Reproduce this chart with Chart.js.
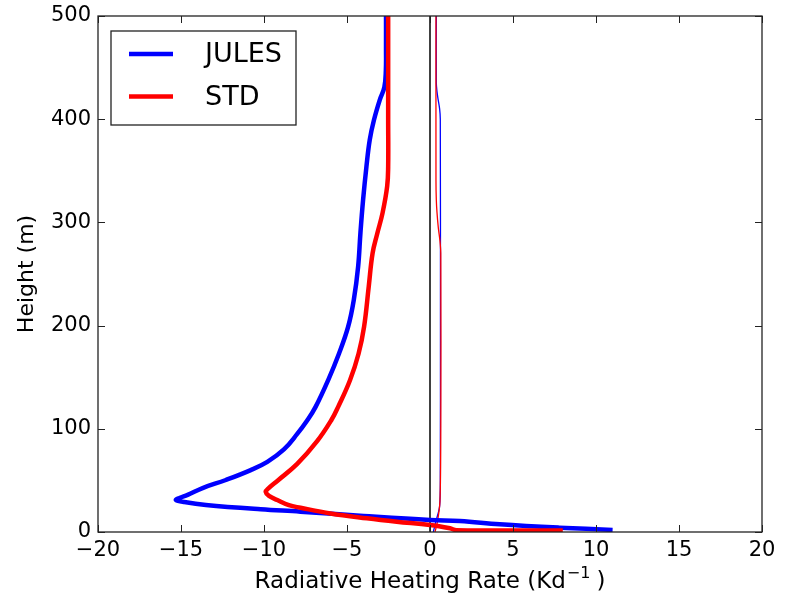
<!DOCTYPE html>
<html>
<head>
<meta charset="utf-8">
<script src="https://cdn.jsdelivr.net/npm/chart.js@4.4.1/dist/chart.umd.min.js"></script>
<style>
  html, body { margin: 0; padding: 0; background: #ffffff; }
  canvas { display: block; }
</style>
</head>
<body>
<canvas id="c" width="790" height="598"></canvas>
<script>
// ---- Data (x = heating rate K/day, y = height m) ----
const xTickValues = [-20, -15, -10, -5, 0, 5, 10, 15, 20];
const xTickLabels = ['\u221220', '\u221215', '\u221210', '\u22125', '0', '5', '10', '15', '20'];
const yTickValues = [0, 100, 200, 300, 400, 500];
const yTickLabels = ['0', '100', '200', '300', '400', '500'];

const xAxisTitle = 'Radiative Heating Rate (Kd';
const xAxisTitleSup = '\u22121';
const xAxisTitleEnd = ')';
const yAxisTitle = 'Height (m)';

const julesHeight = [2, 4.2, 7.5, 10.7, 11.6, 15.5, 19.7, 22, 26.2, 29, 31, 33, 36, 42.6, 50.4, 60, 68, 80, 95, 108, 121, 147, 173, 199, 225, 257, 290, 322, 354, 380, 399, 419, 431, 447, 470, 500];
const julesRate   = [11.0, 7.8, 4.2, 1.8, 0.0, -4.0, -7.8, -10.2, -13.5, -14.8, -15.3, -15.1, -14.6, -13.7, -12.3, -10.8, -9.8, -8.8, -8.0, -7.4, -6.9, -6.14, -5.48, -4.93, -4.59, -4.33, -4.19, -4.03, -3.83, -3.63, -3.38, -3.02, -2.75, -2.66, -2.65, -2.65];

const stdHeight = [1.5, 1.8, 3.6, 6.8, 10, 13.3, 18, 23.5, 26, 31, 35, 39, 42, 49.5, 66, 88, 108.5, 121, 147, 173, 199, 238, 270, 289, 309, 335, 354, 400, 500];
const stdRate   = [8.0, 1.6, 1.2, 0.0, -2.0, -3.8, -6.0, -7.8, -8.5, -9.2, -9.7, -9.9, -9.75, -9.2, -8.0, -6.8, -5.94, -5.54, -4.82, -4.3, -3.97, -3.69, -3.46, -3.18, -2.86, -2.58, -2.52, -2.52, -2.52];

const julesThinHeight = [0, 10, 25, 60, 200, 400, 410, 420, 427, 435, 500];
const julesThinRate   = [0.2, 0.35, 0.58, 0.62, 0.63, 0.62, 0.58, 0.48, 0.42, 0.38, 0.38];

const stdThinHeight = [0, 10, 30, 100, 270, 282, 295, 310, 322, 340, 500];
const stdThinRate   = [0.3, 0.45, 0.6, 0.65, 0.65, 0.6, 0.5, 0.42, 0.38, 0.36, 0.36];

const zeroLineHeight = [0, 500];
const zeroLineRate   = [0, 0];

const seriesNames = ['JULES', 'STD'];

// ---- build points ----
const pts = (xs, ys) => xs.map((x, i) => ({ x: x, y: ys[i] }));
const FONT = '"DejaVu Sans", "Liberation Sans", sans-serif';

const datasets = [
  { label: seriesNames[0], data: pts(julesRate, julesHeight), borderColor: '#0000ff', borderWidth: 4.5, order: 1, tension: 0.4, inLegend: true },
  { label: seriesNames[1], data: pts(stdRate, stdHeight), borderColor: '#ff0000', borderWidth: 4.5, order: 0, tension: 0.4, inLegend: true },
  { label: 'JULES thin', data: pts(julesThinRate, julesThinHeight), borderColor: '#0000ff', borderWidth: 1.3, order: 3, tension: 0.3, inLegend: false },
  { label: 'STD thin', data: pts(stdThinRate, stdThinHeight), borderColor: '#ff0000', borderWidth: 1.3, order: 2, tension: 0.3, inLegend: false },
  { label: 'zero', data: pts(zeroLineRate, zeroLineHeight), borderColor: '#000000', borderWidth: 1.5, order: 4, tension: 0, inLegend: false }
].map(d => Object.assign({ showLine: true, pointRadius: 0, pointHoverRadius: 0, fill: false, borderCapStyle: 'butt', borderJoinStyle: 'round' }, d));

// frame, inward ticks on four sides, x title with superscript, legend box
const framePlugin = {
  id: 'frame',
  afterDraw(chart) {
    const ctx = chart.ctx;
    const a = chart.chartArea;
    const xs = chart.scales.x, ys = chart.scales.y;
    ctx.save();
    ctx.strokeStyle = '#222222';
    ctx.lineWidth = 1.3;
    ctx.strokeRect(a.left, a.top, a.right - a.left, a.bottom - a.top);
    ctx.lineWidth = 1;
    const tl = 7;
    ctx.beginPath();
    xTickValues.forEach(v => {
      const px = Math.round(xs.getPixelForValue(v)) + 0.5;
      ctx.moveTo(px, a.bottom); ctx.lineTo(px, a.bottom - tl);
      ctx.moveTo(px, a.top); ctx.lineTo(px, a.top + tl);
    });
    yTickValues.forEach(v => {
      const py = Math.round(ys.getPixelForValue(v)) + 0.5;
      ctx.moveTo(a.left, py); ctx.lineTo(a.left + tl, py);
      ctx.moveTo(a.right, py); ctx.lineTo(a.right - tl, py);
    });
    ctx.stroke();

    // x axis title with superscript
    const mainFont = '23px ' + FONT, supFont = '16px ' + FONT;
    ctx.fillStyle = '#000000';
    ctx.textBaseline = 'alphabetic';
    ctx.textAlign = 'left';
    ctx.font = mainFont;
    const w1 = ctx.measureText(xAxisTitle).width;
    const w3 = ctx.measureText(xAxisTitleEnd).width;
    ctx.font = supFont;
    const w2 = ctx.measureText(xAxisTitleSup).width;
    const gap = 6;
    const total = w1 + 1 + w2 + gap + w3;
    const cx = (a.left + a.right) / 2;
    const tx = cx - total / 2;
    const base = 588;
    ctx.font = mainFont;
    ctx.fillText(xAxisTitle, tx, base);
    ctx.font = supFont;
    ctx.fillText(xAxisTitleSup, tx + w1 + 1, base - 10);
    ctx.font = mainFont;
    ctx.fillText(xAxisTitleEnd, tx + w1 + 1 + w2 + gap, base);

    // legend
    const items = chart.data.datasets.filter(d => d.inLegend);
    const bx = a.left + 13, by = a.top + 15, bw = 185, bh = 94;
    ctx.fillStyle = '#ffffff';
    ctx.fillRect(bx, by, bw, bh);
    ctx.strokeStyle = '#222222';
    ctx.lineWidth = 1.3;
    ctx.strokeRect(bx, by, bw, bh);
    ctx.font = '27px ' + FONT;
    ctx.textBaseline = 'middle';
    ctx.textAlign = 'left';
    items.forEach((d, i) => {
      const ly = by + 23 + i * 42.5;
      ctx.strokeStyle = d.borderColor;
      ctx.lineWidth = 4.5;
      ctx.beginPath();
      ctx.moveTo(bx + 18, ly);
      ctx.lineTo(bx + 62, ly);
      ctx.stroke();
      ctx.fillStyle = '#000000';
      ctx.fillText(d.label, bx + 94, ly + 1);
    });
    ctx.restore();
  }
};

new Chart(document.getElementById('c'), {
  type: 'scatter',
  data: { datasets: datasets },
  options: {
    responsive: false,
    animation: false,
    events: [],
    layout: { padding: { top: 16, right: 28, left: 0, bottom: 0 } },
    plugins: { legend: { display: false }, tooltip: { enabled: false } },
    scales: {
      x: {
        type: 'linear', position: 'bottom', min: -20, max: 20,
        grid: { display: false, drawTicks: false },
        border: { display: false },
        afterBuildTicks: s => { s.ticks = xTickValues.map(v => ({ value: v })); },
        afterFit: s => { s.height = 66; },
        ticks: {
          autoSkip: false, maxRotation: 0, padding: 6, color: '#000000',
          font: { family: FONT, size: 21 },
          callback: v => xTickLabels[xTickValues.indexOf(v)]
        },
        title: { display: false }
      },
      y: {
        type: 'linear', position: 'left', min: 0, max: 500,
        grid: { display: false, drawTicks: false },
        border: { display: false },
        afterBuildTicks: s => { s.ticks = yTickValues.map(v => ({ value: v })); },
        afterFit: s => { s.width = 98; },
        ticks: {
          autoSkip: false, padding: 7, color: '#000000',
          font: { family: FONT, size: 21, lineHeight: 0.7 },
          callback: v => yTickLabels[yTickValues.indexOf(v)]
        },
        title: {
          display: true, text: yAxisTitle, color: '#000000',
          font: { family: FONT, size: 22 }, padding: { top: 14, bottom: 0 }
        }
      }
    }
  },
  plugins: [framePlugin]
});
</script>
</body>
</html>
